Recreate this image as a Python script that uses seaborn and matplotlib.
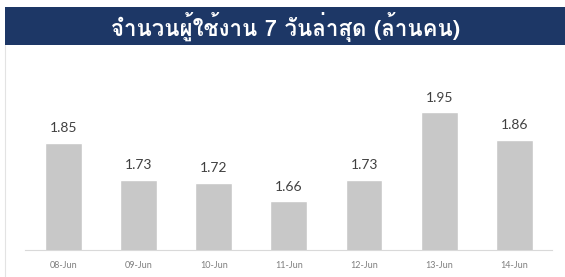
import matplotlib
matplotlib.use("Agg")
import matplotlib.pyplot as plt
import seaborn as sns
import pandas as pd
from matplotlib import font_manager, ft2font
from matplotlib.patches import Rectangle
from matplotlib.lines import Line2D

# data
days = ["08-Jun", "09-Jun", "10-Jun", "11-Jun", "12-Jun", "13-Jun", "14-Jun"]
users = [1.85, 1.73, 1.72, 1.66, 1.73, 1.95, 1.86]
title = "จำนวนผู้ใช้งาน 7 วันล่าสุด (ล้านคน)"

sns.set_theme(style="white")

# look for any installed font that can draw Thai
thai_fonts = []
for f in font_manager.fontManager.ttflist:
    try:
        if ord("จ") in ft2font.FT2Font(f.fname).get_charmap():
            if f.name not in thai_fonts:
                thai_fonts.append(f.name)
    except Exception:
        pass
plt.rcParams["font.family"] = ["Lato", "DejaVu Sans"]

df = pd.DataFrame({"day": days, "users": users})

fig = plt.figure(figsize=(5.65, 2.77), dpi=100)
fig.patch.set_facecolor("white")

# title banner
fig.patches.append(Rectangle((5 / 565, 1 - 45 / 277), 1 - 5 / 565, 38 / 277,
                             transform=fig.transFigure, facecolor="#1d3766",
                             edgecolor="none", zorder=0))
fig.text(0.505, 1 - 27 / 277, title, ha="center", va="center", color="white",
         fontsize=16, fontweight="bold", family=thai_fonts + ["DejaVu Sans"])
fig.lines.append(Line2D([5 / 565, 5 / 565], [0, 1 - 45 / 277],
                        transform=fig.transFigure, color="#e3e3e3", lw=0.8))

ax = fig.add_axes([25 / 565, 1 - 250 / 277, 527 / 565, 190 / 277])
sns.barplot(data=df, x="day", y="users", color="#c8c8c8", width=0.49,
            saturation=1, ax=ax)
ax.bar_label(ax.containers[0], fmt="%.2f", padding=6, fontsize=10, color="#404040")

ax.set_ylim(1.5, 2.12)
ax.set_xlim(-0.51, 6.5)
ax.set_xlabel("")
ax.set_ylabel("")
ax.set_yticks([])
ax.tick_params(axis="x", length=0, pad=8, labelsize=6.5, labelcolor="#7f7f7f")
for side in ["top", "left", "right"]:
    ax.spines[side].set_visible(False)
ax.spines["bottom"].set_color("#d9d9d9")
ax.spines["bottom"].set_linewidth(0.8)
ax.patch.set_alpha(0)

fig.savefig("out.png", dpi=100)
